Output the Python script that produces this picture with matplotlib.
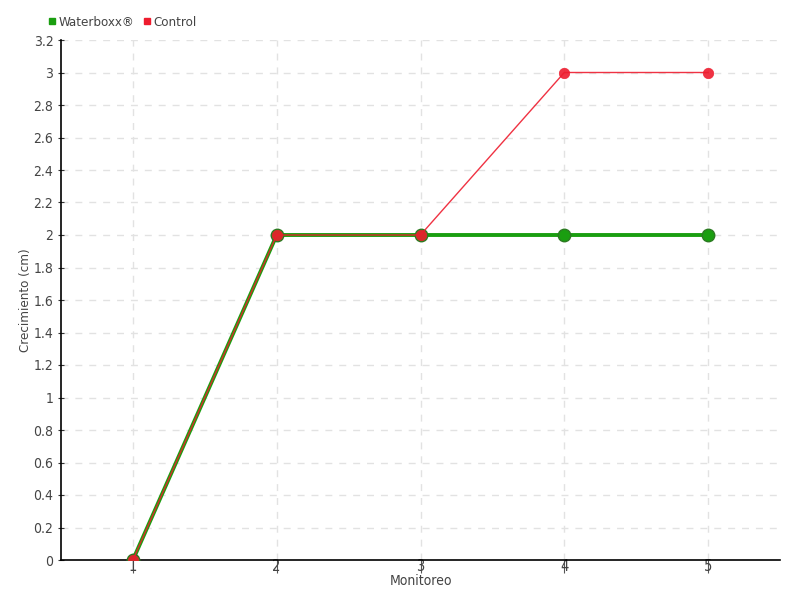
import matplotlib
matplotlib.use("Agg")
import matplotlib.pyplot as plt
from matplotlib.lines import Line2D

monitoreo = [1, 2, 3, 4, 5]
waterboxx = [0, 2, 2, 2, 2]
control = [0, 2, 2, 3, 3]
y_ticks = [0, 0.2, 0.4, 0.6, 0.8, 1, 1.2, 1.4, 1.6, 1.8, 2, 2.2, 2.4, 2.6, 2.8, 3, 3.2]
y_labels = ["0", "0.2", "0.4", "0.6", "0.8", "1", "1.2", "1.4", "1.6", "1.8",
            "2", "2.2", "2.4", "2.6", "2.8", "3", "3.2"]

plt.rcParams['font.family'] = ['DejaVu Sans']
plt.rcParams['font.stretch'] = 'condensed'

green = '#1a9e10'
red = '#ee1c2e'
txt = '#444444'

fig = plt.figure(figsize=(8, 6), dpi=100)
ax = fig.add_axes([61/800, 40/600, 719/800, 520/600])

ax.plot(monitoreo, waterboxx, color=green, lw=2.8, marker='o', ms=9,
        markerfacecolor=green, markeredgecolor='#2c7a22', markeredgewidth=1, zorder=3)
ax.plot(monitoreo, control, color=red, lw=1.0, alpha=0.9, marker='o', ms=7.5,
        markerfacecolor=red, markeredgecolor=red, markeredgewidth=0.5, zorder=4)

ax.set_xlim(0.5, 5.5)
ax.set_ylim(0, 3.2)
ax.set_xticks(monitoreo)
ax.set_xticklabels([str(m) for m in monitoreo])
ax.set_yticks(y_ticks)
ax.set_yticklabels(y_labels)

ax.grid(True, color='#e2e2e2', linestyle=(0, (5, 5)), linewidth=1)
ax.set_axisbelow(True)
for s in ['top', 'right']:
    ax.spines[s].set_visible(False)
for s in ['left', 'bottom']:
    ax.spines[s].set_color('black')
    ax.spines[s].set_linewidth(1.2)

ax.tick_params(axis='y', direction='inout', length=5, color='#333333', labelsize=10, labelcolor=txt, pad=3)
ax.tick_params(axis='x', direction='out', length=9, color='#555555', labelsize=10.5, labelcolor=txt, pad=-10)

ax.set_xlabel('Monitoreo', fontsize=10, color=txt, labelpad=0)
ax.set_ylabel('Crecimiento (cm)', fontsize=9.5, color=txt, labelpad=1)

handles = [Line2D([], [], linestyle='none', marker='s', ms=5, color=green),
           Line2D([], [], linestyle='none', marker='s', ms=5, color=red)]
fig.legend(handles, ['Waterboxx®', 'Control'], loc='center left', bbox_to_anchor=(0.058, 1 - 22/600),
           ncol=2, frameon=False, fontsize=9.5, labelcolor=txt, handletextpad=0.1,
           columnspacing=0.6, handlelength=0.8, borderaxespad=0, borderpad=0)

fig.savefig('out.png', dpi=100)
